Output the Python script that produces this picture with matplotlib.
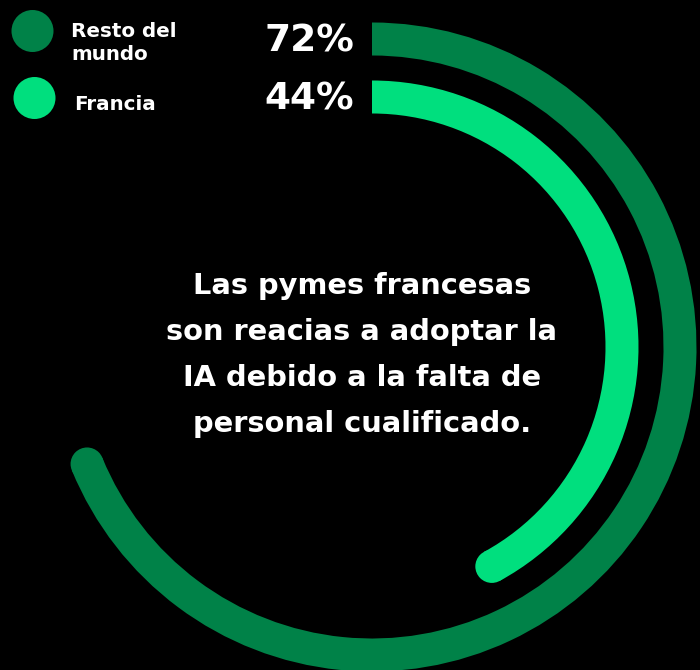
import numpy as np
import matplotlib.pyplot as plt
from matplotlib.patches import Wedge, Circle

labels = ["Resto del\nmundo", "Francia"]
values = [72, 44]
colors = ["#008248", "#00df7e"]
message = ["Las pymes francesas",
           "son reacias a adoptar la",
           "IA debido a la falta de",
           "personal cualificado."]

W, H = 700, 670
fig = plt.figure(figsize=(7, 6.7), dpi=100, facecolor="black")
ax = fig.add_axes([0, 0, 1, 1])
ax.set_xlim(0, W)
ax.set_ylim(H, 0)
ax.set_aspect("equal")
ax.axis("off")
ax.set_facecolor("black")

font = "DejaVu Sans"
cx, cy = 372, 347
radii = [308, 250]
band = 33
full_turn = 344  # degrees for 100 %

for v, r, c in zip(values, radii, colors):
    sweep = full_turn * v / 100
    # y axis is inverted, so counterclockwise in data = clockwise on screen
    ax.add_patch(Wedge((cx, cy), r + band / 2, 270, 270 + sweep,
                       width=band, facecolor=c, edgecolor="none"))
    a = np.deg2rad(270 + sweep)
    ax.add_patch(Circle((cx + r * np.cos(a), cy + r * np.sin(a)), band / 2,
                        facecolor=c, edgecolor="none"))

# legend
leg_y = [31, 98]
leg_x = [32.5, 34.5]
txt_x = [71, 74]
txt_y = [43, 104]
pct_y = [42, 100]
for i in range(len(values)):
    ax.add_patch(Circle((leg_x[i], leg_y[i]), 21, facecolor=colors[i],
                        edgecolor="none"))
    ax.text(txt_x[i], txt_y[i], labels[i], color="white", fontsize=14.3,
            fontweight="bold", family=font, ha="left", va="center",
            linespacing=1.3)
    ax.text(354, pct_y[i], f"{values[i]}%", color="white", fontsize=27,
            fontweight="bold", family=font, ha="right", va="center")

for k, line in enumerate(message):
    ax.text(362, 294 + 46 * k, line, color="white", fontsize=20.8,
            fontweight="bold", family=font, ha="center", va="baseline")

fig.savefig("out.png", dpi=100, facecolor="black")
